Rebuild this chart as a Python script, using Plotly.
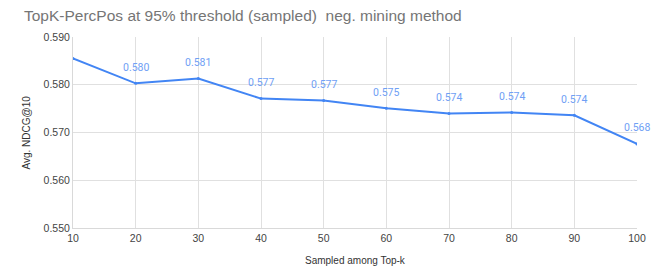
import plotly.graph_objects as go

k_values = [10, 20, 30, 40, 50, 60, 70, 80, 90, 100]
ndcg = [0.5855, 0.5803, 0.5813, 0.5771, 0.5767, 0.5751, 0.5740, 0.5742, 0.5736, 0.5676]
labels = ["", "0.580", "0.581", "0.577", "0.577", "0.575", "0.574", "0.574", "0.574", "0.568"]
y_ticks = [0.550, 0.560, 0.570, 0.580, 0.590]
x_ticks = [10, 20, 30, 40, 50, 60, 70, 80, 90, 100]
title_text = "TopK-PercPos at 95% threshold (sampled)  neg. mining method"
x_title = "Sampled among Top-k"
y_title = "Avg. NDCG@10"

line_color = "#4285F4"
label_color = "#6FA0F5"
axis_font = "Arial, 'Liberation Sans', sans-serif"
label_font = "Roboto, Arial, sans-serif"

PL, PR, PT, PB = 73, 637, 37, 228
PW, PH = PR - PL, PB - PT

fig = go.Figure()
fig.add_trace(go.Scatter(
    x=k_values, y=ndcg, mode="lines+markers",
    line=dict(color=line_color, width=2),
    marker=dict(color=line_color, size=3),
    showlegend=False, hoverinfo="skip",
))

for xv, yv, t in zip(k_values, ndcg, labels):
    if t:
        fig.add_annotation(x=xv, y=yv, text=t, showarrow=False, yshift=16,
                           font=dict(size=10.5, color=label_color, family=label_font))

fig.add_annotation(text=title_text, xref="paper", yref="paper",
                   x=(22 - PL) / PW, y=1 + (PT - 16) / PH,
                   xanchor="left", yanchor="middle", showarrow=False,
                   font=dict(size=15.5, color="#757575", family=axis_font))
fig.add_annotation(text=x_title, xref="paper", yref="paper",
                   x=0.5, y=-(260 - PB) / PH,
                   xanchor="center", yanchor="middle", showarrow=False,
                   font=dict(size=10, color="#333333", family=axis_font))
fig.add_annotation(text=y_title, xref="paper", yref="paper",
                   x=-(PL - 26) / PW, y=0.5, textangle=-90,
                   xanchor="center", yanchor="middle", showarrow=False,
                   font=dict(size=10, color="#333333", family=axis_font))

fig.update_layout(
    width=655, height=267,
    margin=dict(l=PL, r=655 - PR, t=PT, b=267 - PB),
    paper_bgcolor="white", plot_bgcolor="white",
    font=dict(family=axis_font),
)
fig.update_xaxes(
    range=[10, 100], tickvals=x_ticks, ticktext=[str(v) for v in x_ticks],
    showgrid=True, gridcolor="#E0E0E0", gridwidth=1, automargin=False,
    showline=True, linecolor="#D9D9D9", linewidth=1, zeroline=False,
    tickfont=dict(size=10.5, color="#444444"), ticks="", ticklabelstandoff=0,
)
fig.update_yaxes(
    range=[0.550, 0.590], tickvals=y_ticks, ticktext=[f"{v:.3f}" for v in y_ticks],
    showgrid=True, gridcolor="#E0E0E0", gridwidth=1, automargin=False,
    showline=True, linecolor="#D9D9D9", linewidth=1, zeroline=False,
    tickfont=dict(size=10.5, color="#444444"), ticks="",
)

fig.write_html("out.html", config={"displayModeBar": False},
               post_script="document.body.style.margin='0';document.body.style.overflow='hidden';")
